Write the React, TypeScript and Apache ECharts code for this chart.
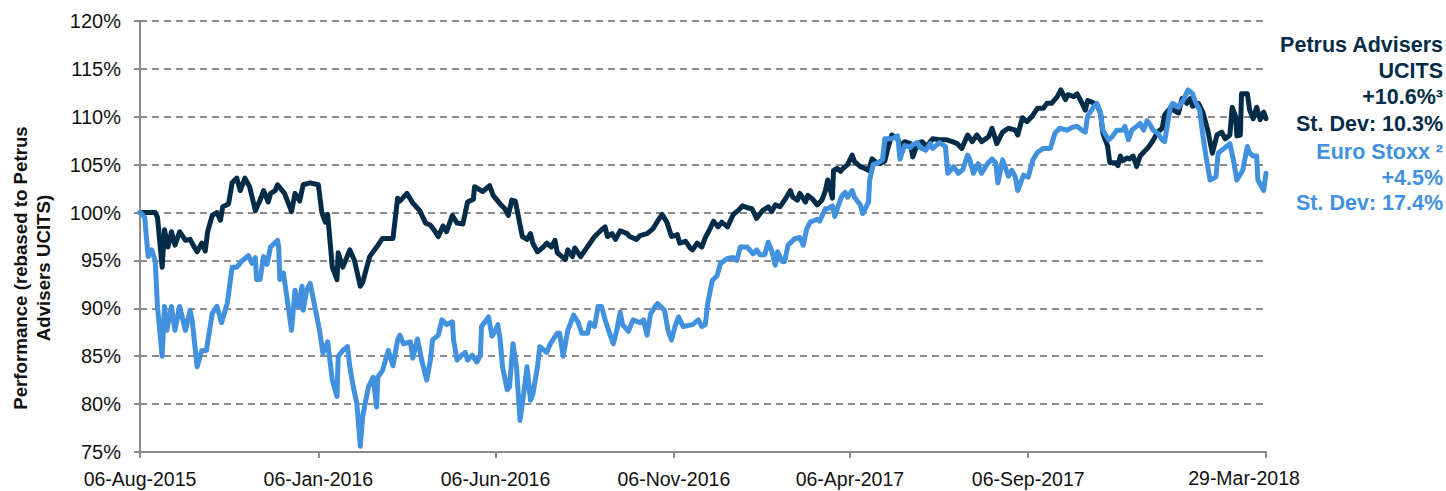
import React, { useEffect, useRef } from "react";
import * as echarts from "echarts";

// X axis: days since 06-Aug-2015
const tickDays = [0, 153, 305, 458, 609, 762, 966];
const tickLabels = ["06-Aug-2015", "06-Jan-2016", "06-Jun-2016", "06-Nov-2016", "06-Apr-2017", "06-Sep-2017", "29-Mar-2018"];
const yTicks = [75, 80, 85, 90, 95, 100, 105, 110, 115, 120];
const yTitle = "Performance (rebased to Petrus\nAdvisers UCITS)";

const petrusName = "Petrus Advisers UCITS";
const stoxxName = "Euro Stoxx";

const petrusDays = [0, 6, 13, 15, 19, 21, 24, 27, 30, 34, 39, 43, 47, 49, 53, 56, 58, 62, 66, 69, 71, 76, 79, 83, 86, 90, 94, 99, 103, 106, 110, 112, 116, 118, 124, 130, 133, 137, 140, 146, 153, 156, 159, 161, 165, 169, 170, 174, 180, 184, 189, 191, 197, 203, 208, 217, 221, 223, 229, 234, 240, 245, 249, 251, 256, 260, 263, 268, 272, 277, 281, 286, 287, 294, 300, 303, 309, 313, 316, 319, 322, 328, 332, 335, 337, 341, 346, 349, 353, 356, 358, 362, 365, 367, 371, 373, 378, 382, 386, 390, 396, 399, 401, 405, 408, 412, 418, 420, 426, 429, 435, 440, 444, 448, 452, 456, 461, 463, 468, 472, 474, 478, 482, 485, 489, 492, 496, 499, 504, 509, 513, 517, 521, 525, 529, 534, 539, 542, 545, 549, 553, 558, 560, 564, 566, 571, 573, 577, 581, 585, 588, 590, 594, 595, 598, 601, 603, 607, 611, 613, 618, 622, 625, 628, 631, 635, 639, 642, 645, 650, 652, 656, 661, 663, 667, 671, 675, 678, 680, 686, 692, 697, 701, 705, 710, 714, 718, 722, 728, 731, 735, 740, 745, 751, 753, 757, 761, 765, 770, 775, 778, 782, 787, 790, 794, 796, 801, 804, 807, 811, 813, 817, 821, 824, 826, 830, 832, 837, 839, 841, 843, 847, 849, 852, 855, 858, 861, 865, 869, 873, 877, 879, 884, 888, 891, 894, 898, 901, 903, 908, 912, 916, 920, 924, 928, 931, 935, 937, 940, 941, 944, 945, 950, 952, 955, 958, 961, 964, 966];
const petrusValues = [100.0, 100.0, 100.0, 99.5, 94.3, 98.2, 96.4, 98.0, 96.6, 98.0, 97.1, 97.2, 96.3, 95.9, 96.8, 96.0, 98.0, 99.7, 100.0, 99.2, 100.6, 100.9, 103.1, 103.6, 102.3, 103.6, 102.7, 100.2, 101.3, 102.3, 101.1, 102.0, 102.3, 102.9, 102.0, 100.1, 102.0, 101.2, 102.9, 103.1, 102.9, 100.0, 99.0, 99.8, 94.3, 93.0, 95.8, 94.3, 96.1, 95.0, 92.3, 92.7, 95.4, 96.4, 97.3, 97.3, 101.5, 101.2, 102.0, 101.0, 100.2, 98.9, 98.7, 98.4, 97.5, 98.6, 98.0, 99.7, 98.9, 98.8, 101.1, 101.4, 102.7, 102.2, 102.8, 101.8, 100.9, 100.4, 99.7, 101.3, 101.2, 97.5, 97.2, 97.8, 96.8, 95.9, 96.4, 96.8, 96.4, 97.1, 95.8, 95.4, 95.1, 96.1, 95.4, 96.3, 95.4, 96.1, 96.8, 97.5, 98.2, 98.5, 97.5, 97.8, 97.2, 98.1, 97.8, 97.5, 97.2, 97.6, 97.8, 98.3, 99.1, 99.8, 99.0, 97.5, 97.7, 96.8, 97.0, 96.3, 96.1, 96.8, 96.4, 97.4, 98.3, 99.1, 98.5, 99.0, 98.5, 99.8, 100.2, 100.7, 100.5, 100.4, 99.4, 100.2, 100.6, 100.1, 100.8, 100.6, 101.3, 102.3, 101.6, 101.3, 102.0, 101.1, 101.8, 101.4, 100.8, 101.3, 102.3, 103.4, 101.5, 104.4, 104.6, 104.3, 104.6, 105.0, 106.0, 105.3, 104.8, 104.6, 104.4, 105.6, 105.3, 105.1, 105.4, 106.9, 108.1, 107.7, 106.9, 107.4, 107.2, 105.8, 107.2, 107.4, 106.9, 107.4, 107.7, 107.6, 107.6, 107.4, 107.2, 106.7, 108.1, 107.4, 108.1, 107.4, 107.9, 108.8, 107.2, 108.4, 108.8, 108.6, 108.1, 109.9, 109.5, 110.0, 110.9, 110.9, 111.4, 111.4, 112.1, 112.8, 111.8, 112.3, 112.1, 112.4, 111.7, 110.7, 111.7, 111.5, 111.2, 110.4, 108.3, 107.0, 105.2, 105.2, 104.9, 105.9, 105.4, 105.7, 105.6, 105.9, 104.8, 105.9, 106.3, 106.8, 107.5, 108.4, 108.8, 110.2, 110.9, 110.6, 110.4, 111.9, 111.4, 111.9, 111.1, 111.4, 110.4, 108.6, 106.2, 108.1, 108.4, 107.7, 108.1, 111.0, 110.0, 108.0, 108.1, 112.4, 112.4, 110.7, 109.8, 111.0, 109.7, 110.5, 109.8];

const stoxxDays = [0, 4, 7, 10, 13, 15, 19, 21, 23, 27, 30, 34, 39, 43, 45, 49, 53, 57, 62, 66, 70, 75, 79, 83, 88, 93, 96, 99, 100, 103, 106, 109, 112, 118, 119, 120, 123, 126, 130, 133, 136, 139, 140, 143, 146, 150, 154, 157, 161, 165, 169, 170, 174, 178, 180, 183, 186, 189, 191, 196, 200, 203, 204, 208, 213, 217, 221, 223, 226, 232, 234, 238, 242, 246, 249, 251, 256, 259, 263, 268, 269, 272, 276, 279, 281, 285, 289, 292, 293, 299, 302, 305, 307, 309, 311, 315, 317, 320, 323, 326, 329, 332, 335, 337, 341, 343, 349, 352, 358, 360, 363, 367, 372, 376, 379, 384, 386, 390, 393, 396, 399, 402, 406, 409, 412, 414, 419, 423, 429, 432, 435, 438, 442, 444, 450, 453, 456, 459, 462, 466, 474, 479, 482, 485, 487, 491, 495, 498, 504, 509, 512, 515, 521, 526, 529, 532, 536, 539, 542, 545, 547, 551, 553, 556, 562, 566, 569, 572, 575, 581, 583, 588, 590, 594, 596, 599, 602, 605, 607, 611, 613, 618, 620, 625, 626, 629, 633, 637, 639, 645, 650, 652, 656, 661, 663, 667, 669, 674, 678, 680, 686, 691, 693, 698, 702, 706, 710, 712, 715, 719, 722, 727, 731, 734, 736, 740, 745, 748, 751, 753, 758, 762, 766, 770, 775, 781, 785, 789, 795, 800, 804, 808, 811, 813, 818, 821, 824, 826, 831, 834, 838, 843, 845, 848, 851, 855, 858, 861, 864, 867, 869, 873, 877, 879, 884, 886, 891, 895, 899, 903, 905, 909, 912, 915, 918, 923, 925, 929, 935, 938, 941, 946, 950, 952, 955, 958, 959, 964, 966];
const stoxxValues = [100.0, 99.5, 95.4, 96.1, 95.0, 90.2, 85.0, 90.2, 87.7, 90.2, 87.7, 90.2, 87.7, 89.8, 88.5, 83.9, 85.6, 85.6, 89.5, 90.2, 88.5, 90.6, 94.3, 94.3, 95.0, 95.5, 94.7, 95.3, 93.0, 93.0, 95.4, 94.6, 96.4, 97.1, 96.4, 93.0, 93.7, 91.2, 87.7, 91.9, 90.2, 92.3, 89.8, 91.9, 92.6, 90.2, 87.7, 85.3, 86.5, 82.5, 80.8, 85.0, 85.6, 86.0, 83.9, 81.8, 80.1, 75.6, 78.7, 81.8, 82.8, 79.7, 82.8, 83.5, 85.6, 84.0, 86.7, 87.2, 86.3, 86.5, 84.8, 86.8, 84.4, 82.5, 84.5, 86.7, 87.2, 88.8, 88.3, 88.6, 86.7, 84.6, 85.1, 85.4, 84.6, 85.1, 84.4, 85.1, 88.1, 89.1, 87.1, 87.7, 88.3, 86.7, 83.9, 81.5, 81.8, 86.3, 83.9, 78.3, 80.9, 83.9, 80.4, 81.0, 83.9, 86.0, 85.4, 86.3, 87.4, 87.4, 85.0, 87.7, 89.3, 88.5, 87.4, 87.4, 88.5, 88.1, 90.2, 90.2, 88.8, 87.7, 86.3, 87.7, 89.6, 88.3, 87.6, 88.8, 88.5, 88.8, 87.2, 89.4, 90.2, 90.5, 89.8, 87.7, 86.7, 88.1, 89.1, 88.1, 88.3, 88.8, 88.1, 88.3, 90.5, 92.9, 93.4, 94.7, 95.2, 95.3, 95.0, 96.4, 96.4, 95.7, 96.1, 95.6, 95.6, 96.9, 96.0, 94.5, 95.9, 94.9, 94.9, 96.6, 97.3, 97.4, 96.6, 98.3, 99.0, 99.3, 99.1, 100.4, 100.4, 100.7, 99.6, 100.7, 101.7, 102.1, 101.6, 102.3, 101.6, 100.8, 99.9, 101.1, 103.4, 105.0, 105.2, 105.5, 107.7, 107.7, 108.0, 105.6, 107.0, 106.8, 107.1, 107.3, 106.8, 106.5, 107.2, 106.7, 107.3, 106.9, 104.1, 104.8, 104.1, 104.5, 106.0, 105.5, 104.1, 105.1, 104.1, 105.1, 105.6, 105.2, 103.1, 105.5, 103.8, 104.4, 103.7, 102.3, 103.9, 103.7, 105.5, 106.3, 106.7, 106.7, 108.3, 108.8, 108.6, 108.9, 109.0, 108.6, 108.4, 110.1, 111.0, 111.4, 110.4, 108.6, 107.6, 107.9, 108.6, 108.6, 109.0, 107.6, 108.6, 109.0, 109.3, 108.6, 109.6, 109.1, 108.6, 108.3, 107.6, 107.4, 111.0, 111.4, 111.0, 111.7, 112.8, 112.4, 111.7, 110.7, 107.9, 105.5, 103.4, 103.7, 106.2, 106.6, 107.2, 105.5, 103.4, 104.4, 106.9, 106.2, 105.9, 105.9, 103.4, 102.3, 104.1];

const petrusNotes = ["Petrus Advisers", "UCITS", "+10.6%³", "St. Dev: 10.3%"];
const stoxxNotes = ["Euro Stoxx ²", "+4.5%", "St. Dev: 17.4%"];

const DARK = "#032C48";
const LIGHT = "#4191DF";
const GRID = "#8C8C8C";
const FONT = "'Liberation Sans', Arial, sans-serif";

export default function App() {
  const ref = useRef<HTMLDivElement>(null);
  useEffect(() => {
    document.body.style.margin = "0";
    if (!ref.current) return;
    const chart = echarts.init(ref.current, null, { renderer: "svg" });
    const pair = (d: number[], v: number[]) => d.map((x, i) => [x, v[i]]);
    const notes: any[] = [];
    petrusNotes.forEach((t, i) => {
      notes.push({
        type: "text", x: 1443, y: 45 + i * 26.2,
        style: { text: t, fill: DARK, font: `bold 21.5px ${FONT}`, textAlign: "right", textVerticalAlign: "middle" },
      });
    });
    stoxxNotes.forEach((t, i) => {
      notes.push({
        type: "text", x: 1443, y: 152 + i * 25.7,
        style: { text: t, fill: LIGHT, font: `bold 21.5px ${FONT}`, textAlign: "right", textVerticalAlign: "middle" },
      });
    });
    notes.push({
      type: "text", x: 1244, y: 478,
      style: { text: tickLabels[tickLabels.length - 1], fill: "#111", font: `19.5px ${FONT}`, textAlign: "center", textVerticalAlign: "middle" },
    });
    notes.push({
      type: "text", x: 32, y: 268, rotation: Math.PI / 2,
      style: { text: yTitle, fill: "#111", font: `bold 18.7px ${FONT}`, lineHeight: 23, textAlign: "center", textVerticalAlign: "middle" },
    });
    chart.setOption({
      animation: false,
      backgroundColor: "#fff",
      textStyle: { fontFamily: FONT },
      grid: { left: 140, right: 180, top: 21, bottom: 39, containLabel: false, outerBoundsMode: "none" },
      xAxis: {
        type: "value",
        min: 0,
        max: tickDays[tickDays.length - 1],
        splitLine: { show: false },
        axisLine: { show: true, lineStyle: { color: GRID, width: 2 } },
        axisTick: { show: true, customValues: tickDays, length: 6, lineStyle: { color: GRID, width: 2 } },
        axisLabel: {
          customValues: tickDays.slice(0, tickDays.length - 1),
          formatter: (v: number) => {
            const i = tickDays.indexOf(Math.round(v));
            return i >= 0 ? tickLabels[i] : "";
          },
          fontSize: 19.5, color: "#111", margin: 17, fontFamily: FONT,
        },
      },
      yAxis: {
        type: "value",
        min: yTicks[0],
        max: yTicks[yTicks.length - 1],
        interval: 5,
        axisLine: { show: true, lineStyle: { color: GRID, width: 2 } },
        axisTick: { show: true, length: 6, lineStyle: { color: GRID, width: 2 } },
        axisLabel: { formatter: (v: number) => `${v}%`, fontSize: 20, color: "#111", margin: 19, fontFamily: FONT },
        splitLine: { show: true, lineStyle: { color: GRID, width: 2, type: [7, 5] } },
      },
      series: [
        {
          name: petrusName, type: "line", data: pair(petrusDays, petrusValues),
          showSymbol: false, symbol: "none",
          lineStyle: { color: DARK, width: 5, join: "round", cap: "round" },
          itemStyle: { color: DARK },
          z: 2,
        },
        {
          name: stoxxName, type: "line", data: pair(stoxxDays, stoxxValues),
          showSymbol: false, symbol: "none",
          lineStyle: { color: LIGHT, width: 5, join: "round", cap: "round" },
          itemStyle: { color: LIGHT },
          z: 3,
        },
      ],
      graphic: notes,
    });
    return () => chart.dispose();
  }, []);
  return <div ref={ref} style={{ width: 1446, height: 491 }} />;
}
